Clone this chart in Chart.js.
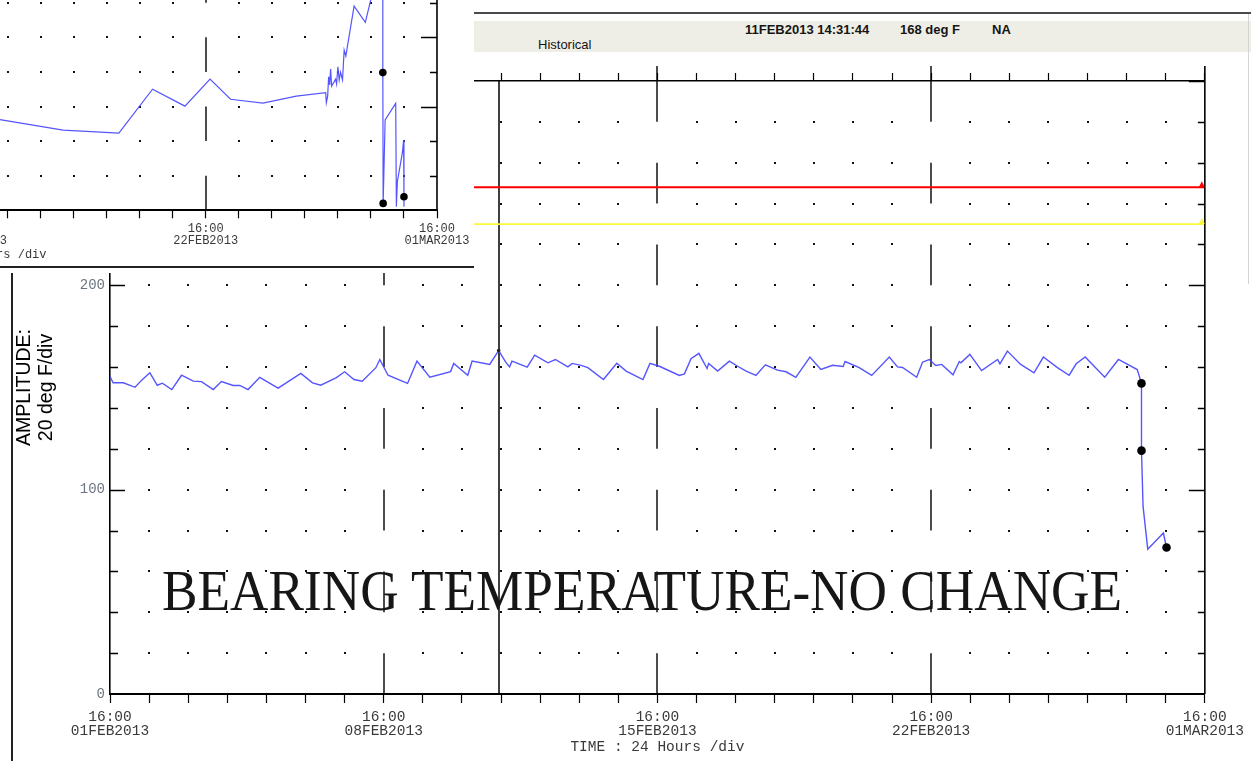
<!DOCTYPE html>
<html><head><meta charset="utf-8">
<script src="https://cdn.jsdelivr.net/npm/chart.js@4.4.1/dist/chart.umd.min.js"></script>
<style>
html,body{margin:0;padding:0;background:#fff;}
#root{position:relative;width:1251px;height:761px;overflow:hidden;background:#fff;}
.abs{position:absolute;}
.hdr{font-family:'Liberation Sans',Arial,sans-serif;font-size:13px;line-height:13px;color:#151515;white-space:nowrap;}
#bigtext{left:0;top:562px;width:1284px;text-align:center;font-family:'Liberation Serif','Times New Roman',serif;font-size:57px;line-height:57px;color:#161616;white-space:nowrap;}
#bigtext span{display:inline-block;transform-origin:50% 50%;}
</style></head><body>
<div id="root">
  <canvas id="main" width="1251" height="761" class="abs" style="left:0;top:0"></canvas>
  <div class="abs" style="left:474px;top:12px;width:777px;height:2px;background:#4a4a4a"></div>
  <div class="abs" style="left:474px;top:21px;width:777px;height:31px;background:#efeee6"></div>
  <div class="abs hdr" id="hTime" style="left:745px;top:22.5px;font-weight:bold"></div>
  <div class="abs hdr" id="hVal" style="left:900px;top:22.5px;font-weight:bold"></div>
  <div class="abs hdr" id="hNA" style="left:992px;top:22.5px;font-weight:bold"></div>
  <div class="abs hdr" id="hHist" style="left:538px;top:37.5px"></div>
  <div class="abs" style="left:1248px;top:14px;width:1px;height:270px;background:#d4d4d4"></div>
  <div class="abs" style="left:11px;top:273px;width:2px;height:488px;background:#222"></div>
  <div id="inset" class="abs" style="left:0;top:0;width:474px;height:273px;background:#fff;overflow:hidden">
    <canvas id="insetCanvas" width="1028" height="600" class="abs" style="left:-528px;top:-330px"></canvas>
    <div class="abs" style="left:0;top:266px;width:474px;height:2px;background:#222"></div>
  </div>
  <div id="bigtext" class="abs"><span id="bigspan"></span></div>
</div>
<script>
// ---------------- DATA ----------------
const DATE_LABELS = ['01FEB2013', '08FEB2013', '15FEB2013', '22FEB2013', '01MAR2013'];
const TIME_LABEL = '16:00';
const X_TITLE = 'TIME : 24 Hours /div';
const Y_TITLE = ['AMPLITUDE:', '20 deg F/div'];
const Y_LABELS = [0, 100, 200];
const ANNOTATION = 'BEARING TEMPERATURE-NO CHANGE';
const HEADER = {time: '11FEB2013 14:31:44', value: '168 deg F', status: 'NA', mode: 'Historical'};

// main trend: days since 01FEB2013 16:00, temperature in deg F
const DAYS = [0.00,0.08,0.34,0.64,0.81,1.02,1.21,1.34,1.58,1.83,2.13,2.34,2.64,2.85,3.15,3.32,3.53,3.83,4.30,4.88,
  5.18,5.39,5.79,6.00,6.24,6.45,6.80,6.90,7.11,7.61,7.85,8.18,8.71,8.79,9.15,9.26,9.71,9.94,10.12,10.22,
  10.28,10.67,10.86,11.20,11.39,11.71,11.82,12.05,12.22,12.62,12.96,13.20,13.63,13.81,14.05,14.56,14.69,14.86,15.06,15.27,
  15.31,15.54,15.84,16.05,16.27,16.52,16.76,17.07,17.29,17.54,17.90,18.18,18.48,18.75,18.80,19.16,19.48,19.93,20.14,20.27,
  20.63,20.78,20.95,21.12,21.27,21.56,21.72,21.76,21.99,22.29,22.70,22.76,22.95,23.29,23.63,23.87,24.23,24.53,24.71,24.94,
  25.44,25.79,26.27,26.38,26.38,26.42,26.54,26.94,27.02];
const TEMPS = [155.4,152.3,152.3,150.1,153.6,157.2,151.1,152.1,149.0,156.0,153.1,152.9,149.0,152.9,151.0,151.0,149.0,155.0,149.7,156.9,
  152.3,151.1,154.8,157.7,153.9,153.1,159.7,163.7,156.0,152.0,162.9,155.0,157.8,161.8,156.0,162.9,161.3,168.1,162.4,160.1,
  162.9,160.0,165.8,162.1,163.7,160.1,161.8,160.8,159.7,153.9,161.9,158.0,153.9,161.8,160.4,155.9,156.7,164.1,166.7,159.3,
  161.8,158.0,162.9,160.4,158.0,155.9,161.1,158.5,157.7,155.0,164.9,158.8,160.9,160.3,162.7,159.7,155.9,164.9,160.1,159.8,
  155.0,162.4,163.7,160.8,161.3,156.2,162.7,162.1,166.2,158.3,163.7,161.6,167.8,161.3,157.2,164.9,159.7,156.0,161.6,164.9,
  155.0,163.7,158.8,152.0,119.1,91.8,70.9,78.8,71.7];
const MARKER_DAYS = [26.38, 26.38, 27.02];
const MARKER_TEMPS = [152.0, 119.1, 71.7];
const CURSOR_DAY = 9.94;
const CURSOR_TEMP = 168.1;
const ALARM_LEVELS = [248, 230];   // high (red), low (yellow)

// inset trend (other channel), values in grid divisions
const INSET_DAYS = [14.77,16.68,18.37,19.39,20.37,21.13,21.75,22.73,23.74,24.63,24.65,24.69,24.72,24.75,24.78,24.81,24.93,24.96,25.00,25.04,
  25.08,25.14,25.19,25.24,25.49,25.83,26.01,26.18,26.36,26.36,26.37,26.43,26.75,26.77,26.80,26.95,26.99,27.00,27.00];
const INSET_DIVS = [2.62,2.32,2.23,3.50,3.01,3.79,3.21,3.10,3.30,3.40,3.11,3.30,3.86,3.62,4.08,3.59,3.79,3.65,4.15,3.77,
  3.99,3.77,4.63,4.46,5.90,5.43,6.14,7.00,6.90,3.98,0.20,2.61,3.09,0.10,0.83,1.65,2.03,0.10,0.39];
const INSET_MARKER_DAYS = [26.36, 26.37, 27.00];
const INSET_MARKER_DIVS = [3.98, 0.20, 0.39];

// ---------------- TEXT ----------------
document.getElementById('hTime').textContent = HEADER.time;
document.getElementById('hVal').textContent = HEADER.value;
document.getElementById('hNA').textContent = HEADER.status;
document.getElementById('hHist').textContent = HEADER.mode;
const bs = document.getElementById('bigspan');
bs.textContent = ANNOTATION;
bs.style.transform = 'scaleX(' + (960 / bs.getBoundingClientRect().width).toFixed(4) + ')';

// ---------------- PLUGIN ----------------
function scopePlugin(cfg) {
  return {
    id: 'scope_' + cfg.name,
    beforeDatasetsDraw(chart) {
      const {ctx, chartArea: a} = chart;
      const x = chart.scales.x, y = chart.scales.y;
      ctx.save();
      ctx.fillStyle = '#111';
      for (let d = cfg.xMin + cfg.xStep; d < cfg.xMax - 1e-9; d += cfg.xStep) {
        if (d % cfg.major === 0) continue;
        const px = Math.round(x.getPixelForValue(d));
        for (let v = cfg.yMin + cfg.yStep; v < cfg.yMax - 1e-9; v += cfg.yStep) {
          const py = Math.round(y.getPixelForValue(v));
          ctx.fillRect(px - 1, py - 1, 2, 2);
        }
      }
      ctx.strokeStyle = '#000';
      ctx.lineWidth = 1.4;
      for (let d = cfg.major; d < cfg.xMax; d += cfg.major) {
        const px = Math.round(x.getPixelForValue(d));
        ctx.beginPath();
        for (let v = cfg.yMin; v < cfg.yMax; v += 2 * cfg.yStep) {
          ctx.moveTo(px, y.getPixelForValue(v));
          ctx.lineTo(px, y.getPixelForValue(Math.min(v + cfg.yStep, cfg.yMax)));
        }
        if (cfg.topExt) { ctx.moveTo(px, a.top); ctx.lineTo(px, a.top - cfg.topExt); }
        ctx.stroke();
      }
      if (cfg.cursor != null) {
        const px = Math.round(x.getPixelForValue(cfg.cursor));
        ctx.lineWidth = 1.5;
        ctx.beginPath();
        ctx.moveTo(px, y.getPixelForValue(cfg.yMax));
        ctx.lineTo(px, y.getPixelForValue(cfg.yMin));
        ctx.stroke();
      }
      ctx.restore();
    },
    afterDatasetsDraw(chart) {
      const {ctx, chartArea: a} = chart;
      const x = chart.scales.x, y = chart.scales.y;
      ctx.save();
      ctx.strokeStyle = '#000';
      ctx.lineWidth = 1.6;
      // right border
      ctx.beginPath();
      ctx.moveTo(a.right, a.top - (cfg.topExt || 0));
      ctx.lineTo(a.right, a.bottom);
      ctx.stroke();
      ctx.lineWidth = 1.3;
      ctx.beginPath();
      for (let v = cfg.yMin + cfg.yStep; v < cfg.yMax + 1e-9; v += cfg.yStep) {
        const py = Math.round(y.getPixelForValue(v)) + 0.5;
        const long = cfg.longTicks.includes(v);
        if (cfg.leftTicks) {
          ctx.moveTo(a.left, py); ctx.lineTo(a.left + (long ? 15 : 8), py);
        }
        ctx.moveTo(a.right, py); ctx.lineTo(a.right - (long ? 16 : 7), py);
      }
      ctx.stroke();
      (cfg.triangles || []).forEach(t => {
        const py = y.getPixelForValue(t.value);
        ctx.fillStyle = t.color;
        ctx.beginPath();
        ctx.moveTo(a.right - 6, py);
        ctx.lineTo(a.right, py);
        ctx.lineTo(a.right - 3, py - 6);
        ctx.closePath();
        ctx.fill();
      });
      ctx.restore();
    }
  };
}

Chart.defaults.font.family = "'Liberation Sans', Arial, sans-serif";
const LINE_BLUE = 'rgba(70,70,255,0.92)';

// ---------------- MAIN CHART ----------------
new Chart(document.getElementById('main'), {
  type: 'line',
  data: {
    datasets: [
      {data: MARKER_DAYS.map((d, i) => ({x: d, y: MARKER_TEMPS[i]})), showLine: false,
       pointRadius: 4.3, pointBackgroundColor: '#000', pointBorderWidth: 0},
      {data: [{x: CURSOR_DAY, y: CURSOR_TEMP}], showLine: false,
       pointRadius: 1.8, pointBackgroundColor: '#222', pointBorderWidth: 0},
      {data: DAYS.map((d, i) => ({x: d, y: TEMPS[i]})), borderColor: LINE_BLUE, borderWidth: 1.4,
       pointRadius: 0, tension: 0},
      {data: [{x: 0, y: ALARM_LEVELS[0]}, {x: 28, y: ALARM_LEVELS[0]}], borderColor: '#ff0000', borderWidth: 1.8, pointRadius: 0},
      {data: [{x: 0, y: ALARM_LEVELS[1]}, {x: 28, y: ALARM_LEVELS[1]}], borderColor: '#f8f83c', borderWidth: 1.8, pointRadius: 0}
    ]
  },
  options: {
    responsive: false, animation: false, events: [],
    layout: {padding: {left: 12, top: 81, right: 45, bottom: 0}},
    plugins: {legend: {display: false}, tooltip: {enabled: false}},
    scales: {
      x: {
        type: 'linear', position: 'bottom', min: 0, max: 28,
        afterFit: s => { s.height = 67; },
        ticks: {stepSize: 1, autoSkip: false, maxRotation: 0, minRotation: 0, padding: 7, color: '#3a3a3a',
          font: {family: "'Liberation Mono', 'Courier New', monospace", size: 14.5, lineHeight: 14 / 14.5},
          callback: v => (v % 7 === 0 ? [TIME_LABEL, DATE_LABELS[v / 7]] : '')},
        grid: {drawOnChartArea: false, tickLength: 9, tickColor: '#000', tickWidth: 1.2},
        border: {color: '#000', width: 2},
        title: {display: true, text: X_TITLE, color: '#3a3a3a', padding: {top: 0, bottom: 7},
          font: {family: "'Liberation Mono', 'Courier New', monospace", size: 14.5, lineHeight: 1}}
      },
      xTop: {
        type: 'linear', position: 'top', min: 0, max: 28,
        afterFit: s => { s.height = 0; },
        ticks: {stepSize: 1, autoSkip: false, display: false},
        grid: {drawOnChartArea: false, tickLength: 8, tickColor: '#000', tickWidth: 1.2},
        border: {color: '#000', width: 1.6}
      },
      y: {
        min: 0, max: 300,
        afterFit: s => { s.width = 98; },
        ticks: {stepSize: 20, autoSkip: false, padding: 5, color: '#6b7580',
          font: {family: "'Liberation Mono', 'Courier New', monospace", size: 14},
          callback: v => (Y_LABELS.includes(v) ? String(v) : '')},
        grid: {drawOnChartArea: false, drawTicks: false},
        border: {color: '#000', width: 1.6},
        title: {display: true, text: Y_TITLE, color: '#000', padding: {top: 2, bottom: 0},
          font: {family: "'Liberation Sans', Arial, sans-serif", size: 19.5, lineHeight: 22 / 19.5}}
      }
    }
  },
  plugins: [scopePlugin({name: 'main', xMin: 0, xMax: 28, xStep: 1, major: 7, yMin: 0, yMax: 300, yStep: 20,
    topExt: 15, cursor: CURSOR_DAY, leftTicks: true, longTicks: [100, 200, 300],
    triangles: [{value: ALARM_LEVELS[0], color: '#ff0000'}, {value: ALARM_LEVELS[1], color: '#f8f83c'}]})]
});

// ---------------- INSET CHART ----------------
new Chart(document.getElementById('insetCanvas'), {
  type: 'line',
  data: {
    datasets: [
      {data: INSET_MARKER_DAYS.map((d, i) => ({x: d, y: INSET_MARKER_DIVS[i]})), showLine: false,
       pointRadius: 3.8, pointBackgroundColor: '#000', pointBorderWidth: 0},
      {data: INSET_DAYS.map((d, i) => ({x: d, y: INSET_DIVS[i]})), borderColor: LINE_BLUE, borderWidth: 1.2,
       pointRadius: 0, tension: 0}
    ]
  },
  options: {
    responsive: false, animation: false, events: [],
    layout: {padding: {left: 40, top: 21.3, right: 63, bottom: 0}},
    plugins: {legend: {display: false}, tooltip: {enabled: false}},
    scales: {
      x: {
        type: 'linear', position: 'bottom', min: 0, max: 28,
        afterFit: s => { s.height = 59.7; },
        ticks: {stepSize: 1, autoSkip: false, maxRotation: 0, minRotation: 0, padding: 4.7, color: '#3a3a3a',
          font: {family: "'Liberation Mono', 'Courier New', monospace", size: 12, lineHeight: 1},
          callback: v => (v % 7 === 0 ? [TIME_LABEL, DATE_LABELS[v / 7]] : '')},
        grid: {drawOnChartArea: false, tickLength: 8, tickColor: '#000', tickWidth: 1.2},
        border: {color: '#000', width: 2},
        title: {display: true, text: X_TITLE, color: '#3a3a3a', padding: {top: 0, bottom: 9},
          font: {family: "'Liberation Mono', 'Courier New', monospace", size: 12, lineHeight: 1}}
      },
      y: {min: 0, max: 15, display: false}
    }
  },
  plugins: [scopePlugin({name: 'inset', xMin: 0, xMax: 28, xStep: 1, major: 7, yMin: 0, yMax: 15, yStep: 1,
    topExt: 0, cursor: null, leftTicks: false, longTicks: [3, 5]})]
});
</script>
</body></html>
